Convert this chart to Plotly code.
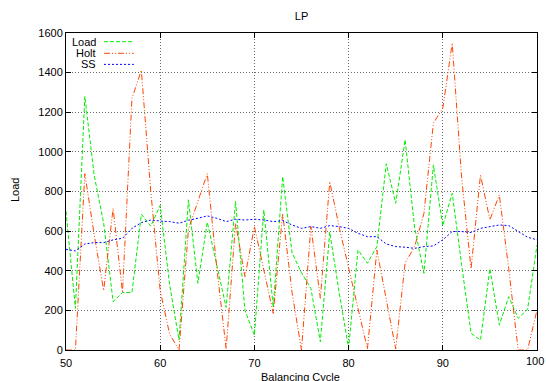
import plotly.graph_objects as go

cycles = list(range(50, 101))

load = [700, 210, 1280, 880, 640, 244, 290, 290, 685, 625,
        730, 330, 50, 758, 337, 645, 430, 215, 750, 200,
        75, 707, 215, 875, 490, 390, 310, 42, 595, 290,
        10, 505, 438, 522, 940, 741, 1061, 620, 387, 934,
        627, 791, 430, 84, 50, 410, 126, 269, 160, 205,
        530]

holt = [0, 0, 890, 580, 300, 715, 290, 1270, 1412, 800,
        300, 80, 0, 610, 750, 890, 420, 5, 640, 370,
        623, 400, 185, 690, 290, 0, 623, 261, 850, 620,
        420, 210, 5, 505, 260, 5, 440, 520, 690, 1145,
        1220, 1549, 870, 410, 884, 657, 783, 410, 0, 0,
        202]

ss = [508, 500, 535, 542, 542, 556, 564, 614, 643, 656,
      651, 648, 640, 655, 665, 677, 665, 648, 660, 656,
      660, 656, 648, 653, 631, 614, 623, 614, 628, 623,
      614, 589, 572, 572, 535, 522, 519, 513, 522, 525,
      556, 598, 598, 593, 614, 623, 631, 628, 600, 569,
      556]

series_names = ["Load", "Holt", "SS"]
colors = ["#00ee00", "#ff4500", "#0000ff"]
dashes = ["4px,2px", "6px,2px,1px,2px,1px,2px", "2px,2px"]

x_ticks = [50, 60, 70, 80, 90, 100]
x_labels = ["50", "60", "70", "80", "90", "100"]
y_ticks = [0, 200, 400, 600, 800, 1000, 1200, 1400, 1600]

FONT = "Liberation Sans, Arial, Helvetica, sans-serif"

fig = go.Figure()
for name, vals, c, d in zip(series_names, [load, holt, ss], colors, dashes):
    fig.add_trace(go.Scatter(x=cycles, y=vals, mode="lines", name=name,
                             line=dict(color=c, width=1, dash=d),
                             showlegend=False, cliponaxis=True))

# gnuplot-style legend: text right-aligned, then line sample
leg_y = [0.9726, 0.936, 0.901]
for name, c, d, yy in zip(series_names, colors, dashes, leg_y):
    fig.add_annotation(x=0.068, y=yy, xref="paper", yref="paper", text=name,
                       showarrow=False, xanchor="right", yanchor="middle",
                       font=dict(family=FONT, size=11, color="black"))
    fig.add_shape(type="line", xref="paper", yref="paper",
                  x0=0.0807, x1=0.144, y0=yy, y1=yy,
                  line=dict(color=c, width=1, dash=d))

axis_common = dict(showline=True, linecolor="black", linewidth=1, mirror="ticks",
                   ticks="inside", ticklen=5, tickcolor="black",
                   showgrid=True, gridcolor="#6a6a6a", griddash="1px,2px", gridwidth=1,
                   zeroline=False,
                   tickfont=dict(family=FONT, size=11, color="black"))

# last x label drawn as annotation so it stays inside the page edge
fig.update_xaxes(range=[50, 100], tickvals=x_ticks,
                 ticktext=x_labels[:-1] + [""], ticklabelstandoff=3, **axis_common)
fig.update_yaxes(range=[0, 1600], tickvals=y_ticks, **axis_common)

fig.add_annotation(x=x_ticks[-1], y=0, xref="x", yref="paper", text=x_labels[-1],
                   showarrow=False, xanchor="right", yanchor="top", xshift=9, yshift=-3,
                   font=dict(family=FONT, size=11, color="black"))

fig.add_annotation(x=0.497, y=-0.085, xref="paper", yref="paper", text="Balancing Cycle",
                   showarrow=False, xanchor="center", yanchor="middle",
                   font=dict(family=FONT, size=11, color="black"))
fig.add_annotation(x=-0.108, y=0.505, xref="paper", yref="paper", text="Load",
                   showarrow=False, textangle=-90, xanchor="center", yanchor="middle",
                   font=dict(family=FONT, size=11, color="black"))

fig.update_layout(
    width=546, height=381,
    margin=dict(l=66, r=9, t=33, b=31, autoexpand=False),
    paper_bgcolor="white", plot_bgcolor="white",
    title=dict(text="LP", xref="paper", x=0.5, xanchor="center",
               y=0.958, yanchor="middle",
               font=dict(family=FONT, size=11, color="black")),
    showlegend=False,
)

fig.write_html("out.html",
               config={"displayModeBar": False},
               post_script="document.body.style.margin='0';"
                           "document.documentElement.style.overflow='hidden';")
